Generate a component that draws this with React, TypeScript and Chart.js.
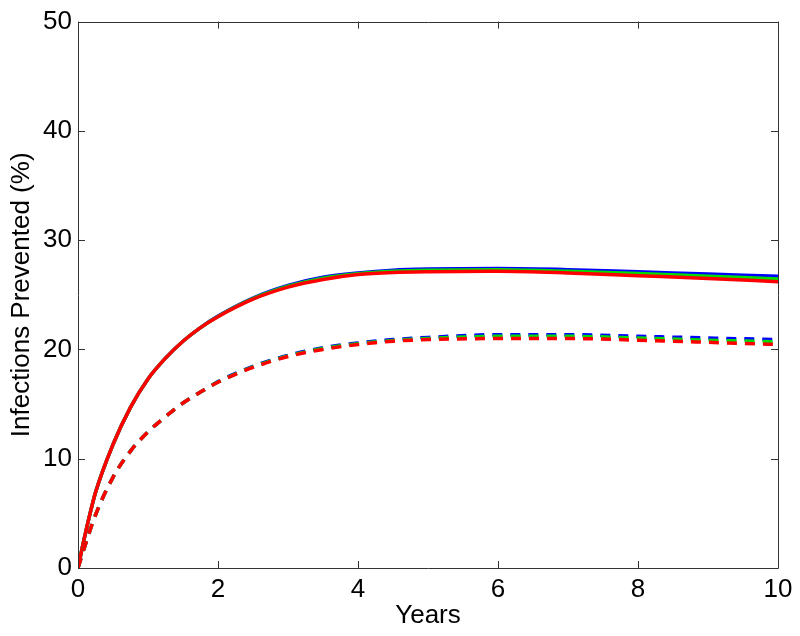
import React, { useEffect, useRef } from "react";
import { Chart, registerables } from "chart.js";

Chart.register(...registerables);

const years = [0, 0.1, 0.25, 0.5, 0.75, 1, 1.25, 1.5, 1.75, 2, 2.5, 3, 3.5, 4, 4.5, 5, 6, 7, 8, 9, 10];

const solidBlue = [0, 3.0, 6.9, 11.3, 14.7, 17.3, 19.2, 20.75, 22.0, 23.05, 24.7, 25.85, 26.6, 27.0, 27.25, 27.35, 27.4, 27.3, 27.1, 26.9, 26.7];
const solidGreen = [0, 3.0, 6.9, 11.3, 14.7, 17.3, 19.2, 20.75, 22.0, 23.02, 24.65, 25.78, 26.52, 26.93, 27.15, 27.25, 27.3, 27.15, 26.95, 26.7, 26.45];
const solidRed = [0, 3.0, 6.9, 11.3, 14.7, 17.3, 19.2, 20.75, 22.0, 23.0, 24.6, 25.7, 26.4, 26.85, 27.05, 27.12, 27.15, 27.0, 26.75, 26.5, 26.2];

const dashedBlue = [0, 2.05, 4.85, 8.3, 10.7, 12.45, 13.85, 15.1, 16.1, 17.05, 18.45, 19.45, 20.15, 20.6, 20.9, 21.1, 21.35, 21.35, 21.2, 21.05, 20.9];
const dashedGreen = [0, 2.05, 4.85, 8.3, 10.7, 12.45, 13.85, 15.1, 16.1, 17.02, 18.4, 19.4, 20.08, 20.52, 20.82, 21.0, 21.2, 21.2, 21.05, 20.85, 20.7];
const dashedRed = [0, 2.05, 4.85, 8.3, 10.7, 12.45, 13.85, 15.1, 16.1, 17.0, 18.35, 19.35, 20.0, 20.45, 20.75, 20.9, 21.0, 21.0, 20.85, 20.65, 20.45];

const xTicks = [0, 2, 4, 6, 8, 10];
const yTicks = [0, 10, 20, 30, 40, 50];

const xTitle = "Years";
const yTitle = "Infections Prevented (%)";

const FONT = "'Liberation Sans', Arial, Helvetica, sans-serif";

const boxPlugin = {
  id: "matlabBox",
  afterDatasetsDraw(chart: any) {
    const { ctx, chartArea, scales } = chart;
    const { left, right, top, bottom } = chartArea;
    const L = 7;
    ctx.save();
    ctx.strokeStyle = "#333333";
    ctx.lineWidth = 1;
    ctx.beginPath();
    ctx.rect(Math.round(left) + 0.5, Math.round(top) + 0.5, Math.round(right - left), Math.round(bottom - top));
    ctx.stroke();
    ctx.beginPath();
    for (const v of xTicks) {
      const x = Math.round(scales.x.getPixelForValue(v)) + 0.5;
      ctx.moveTo(x, bottom);
      ctx.lineTo(x, bottom - L);
      ctx.moveTo(x, top);
      ctx.lineTo(x, top + L);
    }
    for (const v of yTicks) {
      const y = Math.round(scales.y.getPixelForValue(v)) + 0.5;
      ctx.moveTo(left, y);
      ctx.lineTo(left + L, y);
      ctx.moveTo(right, y);
      ctx.lineTo(right - L, y);
    }
    ctx.stroke();
    ctx.restore();
  },
};

function mk(label: string, data: number[], color: string, dashed: boolean, order: number) {
  return {
    label,
    data: years.map((x, i) => ({ x, y: data[i] })),
    borderColor: color,
    backgroundColor: color,
    borderWidth: 3.5,
    borderDash: dashed ? [10, 8] : [],
    pointRadius: 0,
    cubicInterpolationMode: "monotone" as const,
    fill: false,
    order,
  };
}

export default function App() {
  const ref = useRef<HTMLCanvasElement>(null);
  useEffect(() => {
    document.body.style.margin = "0";
    const chart = new Chart(ref.current!, {
      type: "line",
      data: {
        datasets: [
          mk("dashed red", dashedRed, "#ff0000", true, 1),
          mk("dashed green", dashedGreen, "#00dd00", true, 2),
          mk("dashed blue", dashedBlue, "#0000ff", true, 3),
          mk("solid red", solidRed, "#ff0000", false, 4),
          mk("solid green", solidGreen, "#00dd00", false, 5),
          mk("solid blue", solidBlue, "#0000ff", false, 6),
        ],
      },
      options: {
        animation: false,
        responsive: false,
        maintainAspectRatio: false,
        layout: { padding: { top: 17, right: 22, left: 0, bottom: 0 } },
        plugins: { legend: { display: false }, tooltip: { enabled: false } },
        scales: {
          x: {
            type: "linear",
            min: 0,
            max: 10,
            afterFit: (s: any) => {
              s.height = 68;
            },
            afterBuildTicks: (s: any) => {
              s.ticks = xTicks.map((v) => ({ value: v }));
            },
            grid: { display: false, drawTicks: false },
            border: { display: false },
            ticks: { color: "#000", font: { family: FONT, size: 26 }, padding: 6, maxRotation: 0 },
            title: { display: true, text: xTitle, color: "#000", font: { family: FONT, size: 26 }, padding: { top: 0, bottom: 5 } },
          },
          y: {
            type: "linear",
            min: 0,
            max: 50,
            afterFit: (s: any) => {
              s.width = 78;
            },
            afterBuildTicks: (s: any) => {
              s.ticks = yTicks.map((v) => ({ value: v }));
            },
            grid: { display: false, drawTicks: false },
            border: { display: false },
            ticks: { color: "#000", font: { family: FONT, size: 26 }, padding: 6 },
            title: { display: true, text: yTitle, color: "#000", font: { family: FONT, size: 26 }, padding: { top: 6, bottom: 0 } },
          },
        },
      },
      plugins: [boxPlugin],
    } as any);
    return () => chart.destroy();
  }, []);
  return <canvas ref={ref} width={800} height={636} style={{ display: "block", width: 800, height: 636 }} />;
}
